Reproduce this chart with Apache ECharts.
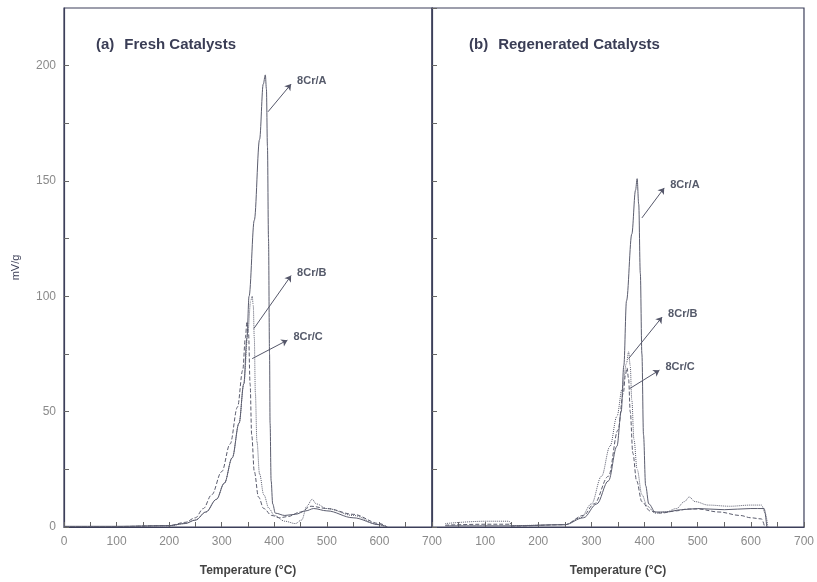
<!DOCTYPE html>
<html>
<head>
<meta charset="utf-8">
<script src="https://cdn.jsdelivr.net/npm/echarts@6/dist/echarts.min.js"></script>
<style>
  html, body { margin: 0; padding: 0; background: #fff; }
  #chart { width: 817px; height: 582px; }
</style>
</head>
<body>
<div id="chart"></div>
<script>
// TPR-like traces, [temperature °C, mV/g]
const freshA = [[0,0.3],[100,0.3],[200,0.6],[230,1.5],[250,3],[270,6.5],[290,12],[305,19],[320,30],[333,45],[342,62],[348,82],[352,100],[362,133],[372,168],[379,192],[383,196],[385,190],[387,165],[389,125],[391,75],[392,45],[394,20],[397,10],[402,6],[420,5],[440,5.5],[460,7],[475,8],[500,7],[550,4],[600,1],[615,0]];
const freshB = [[0,0.2],[100,0.2],[200,0.5],[230,1.5],[250,3],[270,6.5],[290,12],[305,19],[320,30],[333,45],[342,62],[350,85],[355,98],[358,100],[360,96],[362,82],[364,58],[367,37],[372,23],[380,14],[390,8],[400,5],[420,2.5],[440,1.5],[452,3],[462,9],[472,12],[480,10],[500,8],[550,5],[600,1],[612,0]];
const freshC = [[0,0.2],[100,0.2],[200,0.6],[230,2],[250,4],[265,8],[281,14],[300,24],[316,36],[330,52],[340,68],[345,82],[348,89],[351,84],[354,62],[357,40],[362,24],[370,13],[380,8],[395,5],[410,4],[425,4.5],[450,6.5],[470,9],[500,8],[550,5.5],[600,1.5],[615,0]];

const regenA = [[25,0.5],[100,0.5],[150,0.5],[250,1],[285,4],[310,10],[332,20],[348,35],[356,50],[361,70],[366,98],[376,127],[383,146],[386,151],[389,140],[392,110],[395,75],[398,40],[402,18],[408,10],[420,6.5],[440,6.5],[470,7.5],[500,8],[550,7.5],[600,8],[625,8],[630,0]];
const regenB = [[25,1.5],[100,2.5],[145,2.5],[150,0.6],[250,1],[280,4],[300,10],[319,22],[335,35],[348,48],[358,60],[366,71],[370,76],[373,70],[376,55],[380,38],[386,25],[395,14],[405,9],[420,6],[440,6.5],[460,8],[475,11],[484,13],[495,11],[520,9.5],[560,9],[600,9.5],[620,9.5],[627,6],[632,0]];
const regenC = [[25,0.8],[100,1.2],[145,1.2],[150,0.4],[250,1],[285,5],[305,10],[332,22],[350,42],[360,58],[364,66],[367,69],[370,64],[373,50],[378,32],[385,20],[395,11],[410,7],[430,6],[460,7],[480,7.8],[500,7.8],[540,6.5],[580,5],[600,4],[620,3.5],[626,0]];

// label arrows: from point on the curve to the label
const annoFresh = [
  { name: '8Cr/A', from: [388, 180], to: [432, 192] },
  { name: '8Cr/B', from: [361, 86], to: [432, 109] },
  { name: '8Cr/C', from: [358, 73], to: [425, 81] }
];
const annoRegen = [
  { name: '8Cr/A', from: [395, 134], to: [437, 147] },
  { name: '8Cr/B', from: [370, 73], to: [433, 91] },
  { name: '8Cr/C', from: [372, 60], to: [428, 68] }
];

const FONT = 'Liberation Sans, Arial, sans-serif';
const INK = '#3a3d55';

function xAxisFor(idx, hideMin) {
  return {
    gridIndex: idx, type: 'value', min: 0, max: 700, interval: 50,
    name: 'Temperature (°C)', nameLocation: 'middle', nameGap: 38,
    nameTextStyle: { fontFamily: FONT, fontSize: 12, fontWeight: 'bold', color: '#444' },
    axisLine: { lineStyle: { color: '#3c3f5a', width: 1.2 } },
    axisTick: { inside: true, length: 5, lineStyle: { color: '#666' } },
    axisLabel: {
      fontFamily: FONT, fontSize: 12, color: '#8a8a8a', margin: 9,
      showMinLabel: !hideMin, showMaxLabel: true,
      formatter: v => (v % 100 === 0 ? String(v) : '')
    },
    splitLine: { show: false }
  };
}
function yAxisFor(idx, labels) {
  return {
    gridIndex: idx, type: 'value', min: 0, max: 225, interval: 25,
    name: labels ? 'mV/g' : '', nameLocation: 'middle', nameGap: 43,
    nameTextStyle: { fontFamily: FONT, fontSize: 11, color: INK },
    axisLine: { lineStyle: { color: '#3c3f5a', width: 1.2 } },
    axisTick: { inside: true, length: 5, lineStyle: { color: '#666' } },
    axisLabel: {
      show: labels, fontFamily: FONT, fontSize: 12, color: '#8a8a8a', margin: 8,
      showMaxLabel: false,
      formatter: v => (v % 50 === 0 ? String(v) : '')
    },
    splitLine: { show: false }
  };
}

function curve(name, data, idx, type, anno) {
  return {
    name: name, type: 'line', xAxisIndex: idx, yAxisIndex: idx,
    data: data, showSymbol: false, smooth: 0.35, smoothMonotone: 'x',
    lineStyle: { color: '#5b5d6e', width: 1, type: type },
    markLine: {
      silent: true, animation: false,
      symbol: ['none', 'arrow'], symbolSize: 6,
      lineStyle: { color: '#55576a', width: 1, type: 'solid' },
      label: { show: false },
      data: [[{ coord: anno.from }, { coord: anno.to }]]
    },
    markPoint: {
      silent: true, animation: false,
      symbol: 'circle', symbolSize: 0,
      label: {
        show: true, position: 'right', offset: [1, -3], formatter: anno.name,
        fontFamily: FONT, fontSize: 11, fontWeight: 'bold', color: '#555a6a'
      },
      data: [{ coord: anno.to }]
    }
  };
}

const chart = echarts.init(document.getElementById('chart'), null, { renderer: 'canvas' });
chart.setOption({
  backgroundColor: '#fff',
  animation: false,
  title: [
    {
      text: '{n|(a)}  {b|Fresh Catalysts}', left: 91, top: 31,
      textStyle: { rich: {
        n: { fontFamily: FONT, fontSize: 15, color: INK },
        b: { fontFamily: FONT, fontSize: 15, fontWeight: 'bold', color: INK }
      } }
    },
    {
      text: '{n|(b)}  {b|Regenerated Catalysts}', left: 464, top: 31,
      textStyle: { rich: {
        n: { fontFamily: FONT, fontSize: 15, color: INK },
        b: { fontFamily: FONT, fontSize: 15, fontWeight: 'bold', color: INK }
      } }
    }
  ],
  grid: [
    { left: 64, right: 385, top: 8, bottom: 52, show: true, borderColor: '#3c3f5a', borderWidth: 1.2 },
    { left: 432, right: 12, top: 8, bottom: 52, show: true, borderColor: '#3c3f5a', borderWidth: 1.2 }
  ],
  xAxis: [xAxisFor(0, false), xAxisFor(1, true)],
  yAxis: [yAxisFor(0, true), yAxisFor(1, false)],
  series: [
    curve('8Cr/A', freshA, 0, 'solid', annoFresh[0]),
    curve('8Cr/B', freshB, 0, 'dotted', annoFresh[1]),
    curve('8Cr/C', freshC, 0, 'dashed', annoFresh[2]),
    curve('8Cr/A', regenA, 1, 'solid', annoRegen[0]),
    curve('8Cr/B', regenB, 1, 'dotted', annoRegen[1]),
    curve('8Cr/C', regenC, 1, 'dashed', annoRegen[2])
  ]
});
</script>
</body>
</html>
